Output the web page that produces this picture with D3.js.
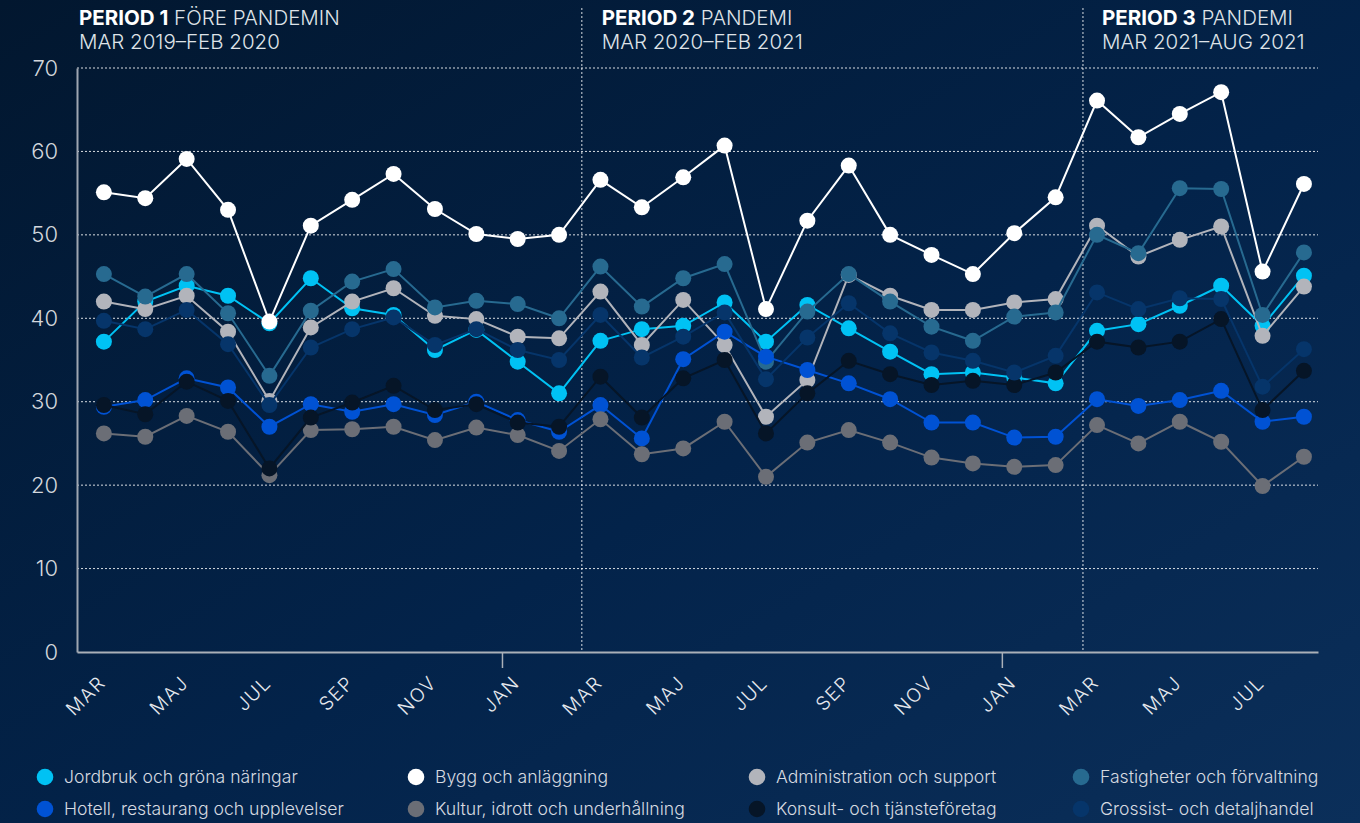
<!DOCTYPE html>
<html>
<head>
<meta charset="utf-8">
<script src="https://cdn.jsdelivr.net/npm/d3@7"></script>
<style>
  body { margin: 0; background: #031a33; }
  svg { display: block; font-family: Inter, "Noto Sans", sans-serif; }
</style>
</head>
<body>
<svg id="chart" width="1360" height="823"></svg>
<script>
// månader mar 2019 - aug 2021
var months = ["MAR","APR","MAJ","JUN","JUL","AUG","SEP","OKT","NOV","DEC","JAN","FEB",
              "MAR","APR","MAJ","JUN","JUL","AUG","SEP","OKT","NOV","DEC","JAN","FEB",
              "MAR","APR","MAJ","JUN","JUL","AUG"];

var jordbruk    = [37.2,42.0,43.9,42.7,39.4,44.8,41.2,40.4,36.2,38.6,34.8,31.0, 37.3,38.7,39.1,41.9,37.2,41.6,38.8,36.0,33.3,33.5,32.9,32.2, 38.5,39.3,41.5,43.9,39.1,45.1];
var bygg        = [55.1,54.4,59.1,53.0,39.6,51.1,54.2,57.3,53.1,50.1,49.5,50.0, 56.6,53.3,56.9,60.7,41.1,51.7,58.3,50.0,47.6,45.3,50.2,54.5, 66.1,61.7,64.5,67.1,45.6,56.1];
var admin       = [42.0,41.1,42.7,38.4,30.1,38.9,42.0,43.6,40.3,39.9,37.8,37.6, 43.2,36.8,42.2,36.8,28.2,32.6,45.2,42.7,41.0,41.0,41.9,42.3, 51.1,47.4,49.4,51.0,37.9,43.8];
var fastigheter = [45.3,42.6,45.3,40.6,33.1,40.9,44.4,45.9,41.3,42.1,41.7,40.0, 46.2,41.4,44.8,46.5,34.8,40.8,45.3,42.0,39.0,37.3,40.2,40.7, 50.0,47.8,55.6,55.5,40.4,47.9];
var hotell      = [29.4,30.2,32.8,31.7,27.0,29.7,28.8,29.7,28.4,30.0,27.8,26.4, 29.6,25.6,35.1,38.4,35.4,33.8,32.2,30.3,27.5,27.5,25.7,25.8, 30.3,29.5,30.2,31.3,27.6,28.2];
var kultur      = [26.2,25.8,28.3,26.4,21.2,26.6,26.7,27.0,25.4,26.9,26.0,24.1, 27.9,23.7,24.4,27.6,21.0,25.1,26.6,25.1,23.3,22.6,22.2,22.4, 27.2,25.0,27.6,25.2,19.9,23.4];
var konsult     = [29.6,28.5,32.4,30.1,22.0,28.1,29.9,31.9,29.0,29.7,27.5,27.0, 33.0,28.1,32.8,35.0,26.2,31.0,34.9,33.3,32.0,32.5,32.0,33.5, 37.2,36.5,37.2,39.9,29.0,33.7];
var grossist    = [39.7,38.7,41.0,36.9,29.6,36.5,38.7,40.1,36.8,38.7,36.2,35.0, 40.4,35.3,37.8,40.7,32.7,37.7,41.8,38.2,35.9,34.9,33.5,35.5, 43.1,41.1,42.4,42.3,31.8,36.3];

var seriesNames = ["Jordbruk och gröna näringar","Bygg och anläggning","Administration och support","Fastigheter och förvaltning",
                   "Hotell, restaurang och upplevelser","Kultur, idrott och underhållning","Konsult- och tjänsteföretag","Grossist- och detaljhandel"];
var seriesValues = [jordbruk, bygg, admin, fastigheter, hotell, kultur, konsult, grossist];
var seriesColors = ["#00c2f4","#ffffff","#b2b4bb","#276a90","#0052d4","#6b6e76","#061527","#06356a"];

var yTicks = [0,10,20,30,40,50,60,70];
var yearTicks = [9.62, 21.7];      // årsskiften
var periodBreaks = [11.55, 23.66]; // streckade periodlinjer
var periods = [
  {bold:"PERIOD 1", rest:" FÖRE PANDEMIN", sub:"MAR 2019–FEB 2020", at:-0.6},
  {bold:"PERIOD 2", rest:" PANDEMI", sub:"MAR 2020–FEB 2021", at:12.03},
  {bold:"PERIOD 3", rest:" PANDEMI", sub:"MAR 2021–AUG 2021", at:24.12}
];

var svg = d3.select("#chart");
var W = 1360, H = 823;

// bakgrund
var defs = svg.append("defs");
var grad = defs.append("linearGradient").attr("id","bg")
  .attr("x1","0").attr("y1","0").attr("x2","1").attr("y2","1");
grad.append("stop").attr("offset","0%").attr("stop-color","#02172f");
grad.append("stop").attr("offset","55%").attr("stop-color","#03234a");
grad.append("stop").attr("offset","100%").attr("stop-color","#0b2f5a");
svg.append("rect").attr("width",W).attr("height",H).attr("fill","url(#bg)");

var x = d3.scaleLinear().domain([-0.65, 29.34]).range([77, 1318]);
var y = d3.scaleLinear().domain([0, 70]).range([652, 68]);

// rutnät
svg.append("g").selectAll("line").data(yTicks.filter(function(d){return d>0;}))
  .enter().append("line")
  .attr("x1", 77).attr("x2", 1318)
  .attr("y1", function(d){return y(d);}).attr("y2", function(d){return y(d);})
  .attr("stroke","#ffffff").attr("stroke-opacity",0.85)
  .attr("stroke-width",1).attr("stroke-dasharray","2,2");

// periodlinjer
svg.append("g").selectAll("line").data(periodBreaks)
  .enter().append("line")
  .attr("x1", function(d){return x(d);}).attr("x2", function(d){return x(d);})
  .attr("y1", 8).attr("y2", 652)
  .attr("stroke","#ffffff").attr("stroke-opacity",0.85)
  .attr("stroke-width",1).attr("stroke-dasharray","2,2");

// y-axel
var yAxis = svg.append("g").attr("transform","translate(77,0)")
  .call(d3.axisLeft(y).tickValues(yTicks).tickSize(0).tickPadding(19));
yAxis.select(".domain").attr("stroke","#9ea6b1").attr("stroke-width",2);
yAxis.selectAll("text").attr("fill","#d3d7dd").style("font-size","22px").style("font-weight",300)
  .style("font-family","Inter, sans-serif");

// x-axel
var xAxis = svg.append("g").attr("transform","translate(0,652)")
  .call(d3.axisBottom(x).tickValues(yearTicks).tickFormat("").tickSize(16).tickSizeOuter(0));
xAxis.select(".domain").attr("stroke","#aab0b8").attr("stroke-width",2);
xAxis.selectAll(".tick line").attr("stroke","#aab0b8").attr("stroke-width",1.5);

svg.append("g").selectAll("text")
  .data(months.map(function(m,i){return {m:m,i:i};}).filter(function(d){return d.i%2==0;}))
  .enter().append("text")
  .attr("transform", function(d){return "translate(" + (x(d.i)+3) + ",684) rotate(-45)";})
  .attr("text-anchor","end")
  .attr("fill","#e6e9ee")
  .style("font-size","19px").style("font-weight",300).style("letter-spacing","1.5px")
  .text(function(d){return d.m;});

// rubriker
periods.forEach(function(p){
  var t = svg.append("text").attr("x", x(p.at)).attr("y", 25)
    .attr("fill","#ffffff").style("font-size","20.5px");
  t.append("tspan").style("font-weight",700).text(p.bold);
  t.append("tspan").style("font-weight",300).attr("fill","#dfe3e8").text(p.rest);
  svg.append("text").attr("x", x(p.at)).attr("y", 49)
    .attr("fill","#dfe3e8").style("font-size","20.5px").style("font-weight",300)
    .text(p.sub);
});

// serier
var line = d3.line()
  .x(function(d,i){return x(i);})
  .y(function(d){return y(d);});

seriesValues.forEach(function(vals, k){
  var g = svg.append("g");
  g.append("path").datum(vals)
    .attr("d", line)
    .attr("fill","none")
    .attr("stroke", seriesColors[k])
    .attr("stroke-width", 2);
  g.selectAll("circle").data(vals).enter().append("circle")
    .attr("cx", function(d,i){return x(i);})
    .attr("cy", function(d){return y(d);})
    .attr("r", 8)
    .attr("fill", seriesColors[k]);
});

// förklaring
var legendX = [45, 416, 757, 1081];
var legendY = [777, 809];
seriesNames.forEach(function(name, k){
  var cx = legendX[k % 4], cy = legendY[Math.floor(k / 4)];
  svg.append("circle").attr("cx", cx).attr("cy", cy).attr("r", 8.3).attr("fill", seriesColors[k]);
  svg.append("text").attr("x", cx + 19).attr("y", cy + 6)
    .attr("fill","#d6dae0").style("font-size","17.6px").style("font-weight",300)
    .text(name);
});
</script>
</body>
</html>
